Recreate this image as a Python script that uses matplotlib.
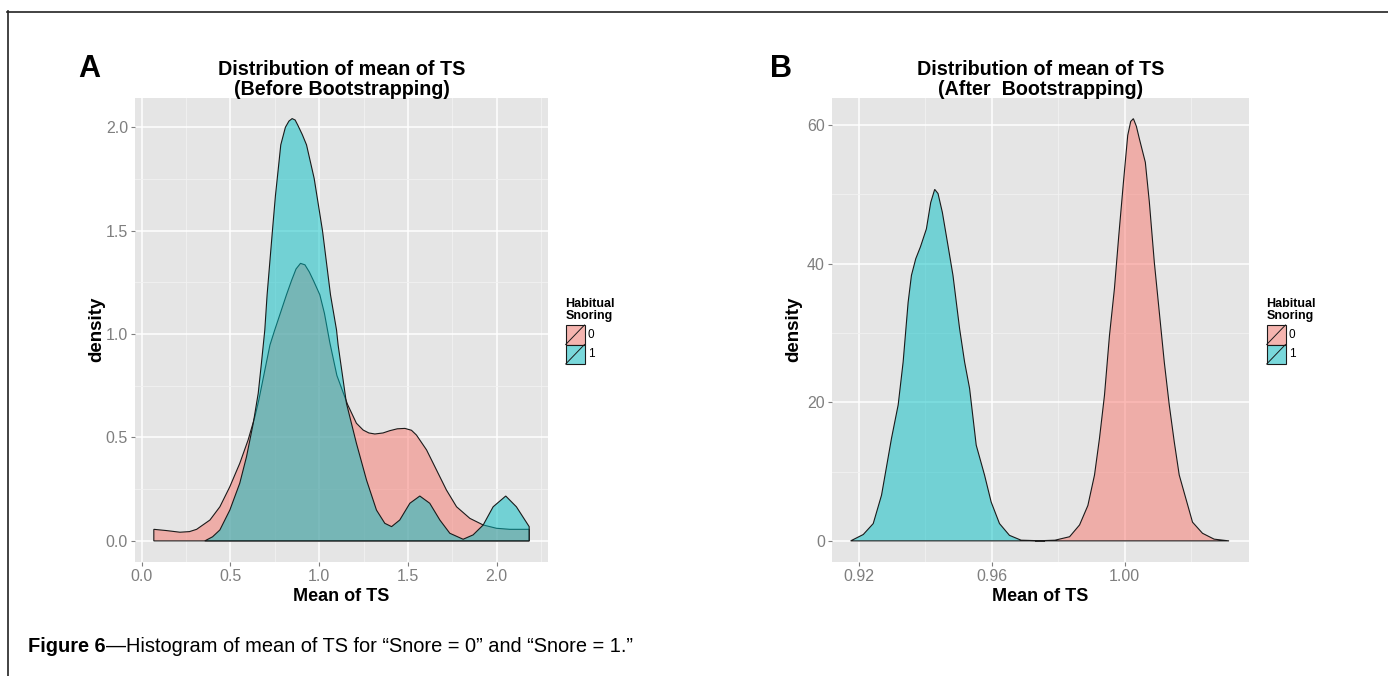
import numpy as np
import matplotlib
matplotlib.use("Agg")
import matplotlib.pyplot as plt
from matplotlib.patches import Rectangle
from matplotlib.lines import Line2D
from matplotlib.colors import to_rgba

plt.rcParams['font.family'] = ['Liberation Sans', 'DejaVu Sans']

W, H = 1388, 676

# ---- data ----
groups = ['0', '1']
colors = ['#F8766D', '#00BFC4']

# panel A: before bootstrapping
a0_x = [0.069, 0.14, 0.216, 0.27, 0.31, 0.385, 0.441, 0.497, 0.553, 0.600, 0.638, 0.66,
        0.70, 0.723, 0.75, 0.785, 0.816, 0.845, 0.87, 0.895, 0.92, 0.945, 0.97, 1.004,
        1.03, 1.06, 1.10, 1.16, 1.21, 1.248, 1.28, 1.314, 1.36, 1.398, 1.44, 1.483,
        1.52, 1.548, 1.605, 1.661, 1.717, 1.774, 1.849, 1.924, 1.999, 2.074, 2.183]
a0_y = [0.056, 0.050, 0.042, 0.045, 0.056, 0.101, 0.165, 0.262, 0.375, 0.488, 0.600, 0.68,
        0.85, 0.947, 1.02, 1.11, 1.19, 1.26, 1.315, 1.342, 1.335, 1.30, 1.255, 1.19,
        1.10, 0.96, 0.80, 0.66, 0.569, 0.536, 0.522, 0.517, 0.522, 0.533, 0.542, 0.544,
        0.535, 0.512, 0.44, 0.343, 0.246, 0.165, 0.109, 0.077, 0.061, 0.056, 0.056]
a1_x = [0.356, 0.40, 0.441, 0.497, 0.553, 0.591, 0.629, 0.657, 0.675, 0.694, 0.707,
        0.737, 0.754, 0.77, 0.784, 0.81, 0.83, 0.848, 0.865, 0.88, 0.905, 0.929, 0.972,
        1.019, 1.064, 1.098, 1.107, 1.154, 1.21, 1.267, 1.323, 1.37, 1.408, 1.454,
        1.511, 1.567, 1.623, 1.680, 1.736, 1.811, 1.867, 1.924, 1.98, 2.051, 2.111, 2.183]
a1_y = [0.0, 0.02, 0.053, 0.149, 0.279, 0.407, 0.569, 0.714, 0.859, 1.02, 1.19,
        1.5, 1.67, 1.80, 1.915, 2.00, 2.03, 2.042, 2.035, 2.01, 1.965, 1.915, 1.753,
        1.5, 1.19, 1.02, 0.947, 0.665, 0.472, 0.294, 0.149, 0.085, 0.069, 0.101,
        0.182, 0.217, 0.182, 0.101, 0.037, 0.008, 0.029, 0.077, 0.165, 0.217, 0.165, 0.069]

# panel B: after bootstrapping
b0_x = [0.9730, 0.9790, 0.9834, 0.9864, 0.9889, 0.9909, 0.9924, 0.9939, 0.9954, 0.9969,
        0.9982, 0.9996, 1.0009, 1.0018, 1.0026, 1.0035, 1.0044, 1.0062, 1.0074, 1.0089,
        1.0104, 1.0119, 1.0134, 1.0149, 1.0164, 1.0184, 1.0204, 1.0234, 1.0269, 1.0314]
b0_y = [0.0, 0.1, 0.6, 2.3, 5.1, 9.5, 14.8, 21.0, 29.6, 36.4,
        44.0, 51.7, 58.5, 60.5, 60.9, 59.8, 58.0, 54.6, 48.9, 40.2,
        33.0, 25.8, 19.6, 14.3, 9.5, 6.1, 2.7, 1.1, 0.25, 0.0]
b1_x = [0.9175, 0.9213, 0.9243, 0.9268, 0.9298, 0.9318, 0.9333, 0.9348, 0.9358, 0.9371,
        0.9385, 0.9403, 0.9416, 0.9428, 0.9438, 0.9451, 0.9468, 0.9483, 0.9503, 0.9518,
        0.9533, 0.9553, 0.9578, 0.9598, 0.9623, 0.9653, 0.9688, 0.9760]
b1_y = [0.0, 0.92, 2.5, 6.6, 14.8, 19.6, 25.8, 34.4, 38.3, 40.7,
        42.4, 45.0, 48.8, 50.7, 50.1, 47.4, 42.6, 38.3, 30.6, 25.8,
        22.0, 13.8, 9.5, 5.6, 2.5, 0.8, 0.1, 0.0]

fig = plt.figure(figsize=(W / 100, H / 100), dpi=100)


def fx(px):
    return px / W


def fy(py):
    return 1 - py / H


def panel(rect, curves, xlim, ylim, xmaj, xmin, ymaj, ymin, xfmt, yfmt, t1, t2):
    ax = fig.add_axes(rect)
    ax.set_facecolor('#E5E5E5')
    for s in ax.spines.values():
        s.set_visible(False)
    ax.set_xlim(xlim)
    ax.set_ylim(ylim)
    ax.set_xticks(xmaj)
    ax.set_xticklabels([xfmt % v for v in xmaj])
    ax.set_xticks(xmin, minor=True)
    ax.set_yticks(ymaj)
    ax.set_yticklabels([yfmt % v for v in ymaj])
    ax.set_yticks(ymin, minor=True)
    ax.grid(which='major', color='white', lw=1.1)
    ax.grid(which='minor', color='#F2F2F2', lw=0.6)
    ax.set_axisbelow(True)
    ax.tick_params(which='major', length=3, width=0.8, color='#7F7F7F',
                   labelcolor='#7F7F7F', labelsize=11.5, pad=2)
    ax.tick_params(which='minor', length=0)
    for (x, y), c in zip(curves, colors):
        px = np.r_[x[0], x, x[-1]]
        py = np.r_[0, y, 0]
        ax.fill(px, py, facecolor=to_rgba(c, 0.5), edgecolor='#1a1a1a', lw=0.8)
    ax.text(0.5, -0.075, 'Mean of TS', transform=ax.transAxes, ha='center',
            va='center', fontsize=13, fontweight='bold')
    ax.text(-0.092, 0.5, 'density', transform=ax.transAxes, ha='center',
            va='center', rotation=90, fontsize=13.5, fontweight='bold')
    ax.text(0.5, 1 + (97.5 - 75) / 464.5, t1, transform=ax.transAxes, ha='center',
            va='baseline', fontsize=14.2, fontweight='bold')
    ax.text(0.5, 1 + (97.5 - 95) / 464.5, t2, transform=ax.transAxes, ha='center',
            va='baseline', fontsize=14.2, fontweight='bold')
    return ax


panel([fx(135), 1 - 562 / H, 413 / W, 464.5 / H],
      [(a0_x, a0_y), (a1_x, a1_y)], (-0.037, 2.289), (-0.102, 2.144),
      [0, 0.5, 1.0, 1.5, 2.0], [0.25, 0.75, 1.25, 1.75, 2.25],
      [0, 0.5, 1.0, 1.5, 2.0], [0.25, 0.75, 1.25, 1.75],
      '%.1f', '%.1f', 'Distribution of mean of TS', '(Before Bootstrapping)')

panel([fx(831.7), 1 - 562 / H, 417.3 / W, 464.5 / H],
      [(b0_x, b0_y), (b1_x, b1_y)], (0.9118, 1.0374), (-3.045, 63.95),
      [0.92, 0.96, 1.00], [0.94, 0.98, 1.02],
      [0, 20, 40, 60], [10, 30, 50],
      '%.2f', '%d', 'Distribution of mean of TS', '(After  Bootstrapping)')

# legends
key_fill = ['#F5B4AF', '#79D8DB']
for lx in (565.7, 1266.7):
    fig.text(fx(lx - 0.5), fy(306.7), 'Habitual', fontsize=9, fontweight='bold', va='baseline')
    fig.text(fx(lx - 0.5), fy(319), 'Snoring', fontsize=9, fontweight='bold', va='baseline')
    for i, g in enumerate(groups):
        y0 = 325 + i * 19.5
        y1 = y0 + 19.5
        fig.patches.append(Rectangle((fx(lx), fy(y1)), 18.8 / W, 19.5 / H,
                                     transform=fig.transFigure, facecolor=key_fill[i],
                                     edgecolor='#1a1a1a', lw=0.8))
        fig.lines.append(Line2D([fx(lx), fx(lx + 18.8)], [fy(y1), fy(y0)],
                                transform=fig.transFigure, color='#1a1a1a', lw=0.7))
        fig.text(fx(lx + 22), fy((y0 + y1) / 2), g, fontsize=8.5, va='center')

# panel letters
fig.text(fx(78), fy(77), 'A', fontsize=22, fontweight='bold', va='baseline')
fig.text(fx(770), fy(77), 'B', fontsize=22, fontweight='bold', va='baseline')

# caption
cap1 = fig.text(fx(28), fy(652), 'Figure 6', fontsize=14.4, fontweight='bold', va='baseline')
r = fig.canvas.get_renderer()
bb = cap1.get_window_extent(renderer=r)
fig.text(bb.x1 / W, fy(652), '\u2014Histogram of mean of TS for \u201cSnore = 0\u201d and \u201cSnore = 1.\u201d',
         fontsize=14.4, va='baseline')

# frame
fig.lines.append(Line2D([fx(7), 1], [fy(11.5), fy(11.5)], transform=fig.transFigure,
                        color='#222222', lw=1.2))
fig.lines.append(Line2D([fx(7.5), fx(7.5)], [fy(11), 0], transform=fig.transFigure,
                        color='#222222', lw=1.2))

fig.savefig('out.png', dpi=100)
